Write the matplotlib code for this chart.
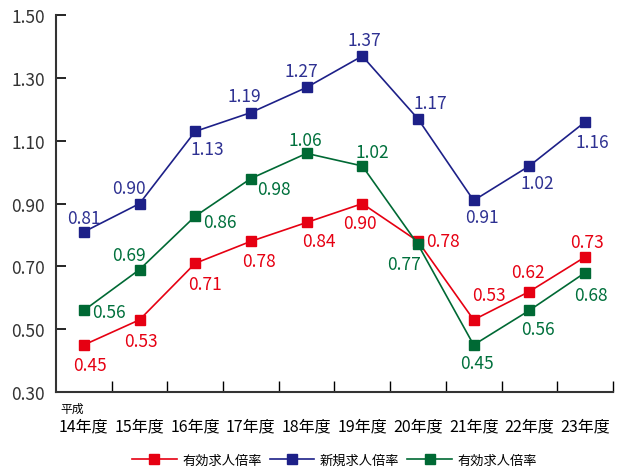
import matplotlib.pyplot as plt

plt.rcParams['font.family'] = ['Noto Sans CJK JP', 'DejaVu Sans']

years = ['14年度', '15年度', '16年度', '17年度', '18年度',
         '19年度', '20年度', '21年度', '22年度', '23年度']
red_vals = [0.45, 0.53, 0.71, 0.78, 0.84, 0.90, 0.78, 0.53, 0.62, 0.73]
blue_vals = [0.81, 0.90, 1.13, 1.19, 1.27, 1.37, 1.17, 0.91, 1.02, 1.16]
green_vals = [0.56, 0.69, 0.86, 0.98, 1.06, 1.02, 0.77, 0.45, 0.56, 0.68]
legend_labels = ['有効求人倍率', '新規求人倍率', '有効求人倍率']

# value label offsets from the marker, in pixels (dx right, dy down)
red_off = [(6, 20), (1, 21), (10, 21), (8, 20), (12, 19), (-2, 19),
           (25, 0), (15, -25), (-1, -20), (1.5, -15)]
blue_off = [(0, -14), (-11, -16), (12, 18), (-7, -17), (-5, -16), (2, -16),
            (12, -16), (8, 17), (8, 17), (7.5, 20)]
green_off = [(25, 2), (-10.5, -15), (25, 6), (23, 10), (-1, -13), (10, -14),
             (-14, 20), (3, 18), (9, 19), (6, 22)]

red = '#e60012'
blue = '#1d2088'
green = '#006934'

fig = plt.figure(figsize=(6.25, 4.77), dpi=100)
ax = fig.add_axes([0.0896, 0.176, 0.891, 0.790])

x = list(range(len(years)))
series = [(red_vals, red_off, red, '#e60012'),
          (blue_vals, blue_off, blue, '#2e3192'),
          (green_vals, green_off, green, '#00703c')]

px = 0.72  # points per pixel at 100 dpi
for (vals, offs, col, tcol), lab in zip(series, legend_labels):
    ax.plot(x, vals, color=col, lw=1.2, marker='s', ms=7.5,
            mec=col, mfc=col, label=lab)
    for xi, v, (dx, dy) in zip(x, vals, offs):
        ax.annotate(f'{v:.2f}', (xi, v), xytext=(dx * px, -dy * px),
                    textcoords='offset points', ha='center', va='center',
                    color=tcol, fontsize=12.5)

ax.set_xlim(-0.5, len(years) - 0.5)
ax.set_ylim(0.30, 1.50)
ax.set_yticks([0.30, 0.50, 0.70, 0.90, 1.10, 1.30, 1.50])
ax.set_yticklabels([f'{t:.2f}' for t in ax.get_yticks()], fontsize=12.5, color='#333333')
ax.tick_params(axis='y', direction='in', length=7, width=1.2, pad=8)

ax.set_xticks(x)
ax.set_xticklabels(years, fontsize=11.5)
ax.tick_params(axis='x', which='major', length=0, pad=18)
ax.set_xticks([i + 0.5 for i in x], minor=True)
ax.tick_params(axis='x', which='minor', direction='in', length=8, width=1.0)

ax.text(-0.42, 0.27, '平成', fontsize=8.5, ha='left', va='top')

for s in ['top', 'right']:
    ax.spines[s].set_visible(False)
for s in ['left', 'bottom']:
    ax.spines[s].set_linewidth(1.5)
    ax.spines[s].set_color('#333333')

fig.legend(loc='lower center', bbox_to_anchor=(0.535, -0.005), ncol=3,
           frameon=False, fontsize=9.5, handlelength=3.4, columnspacing=0.6,
           handletextpad=0.4)

fig.savefig('out.png', dpi=100)
